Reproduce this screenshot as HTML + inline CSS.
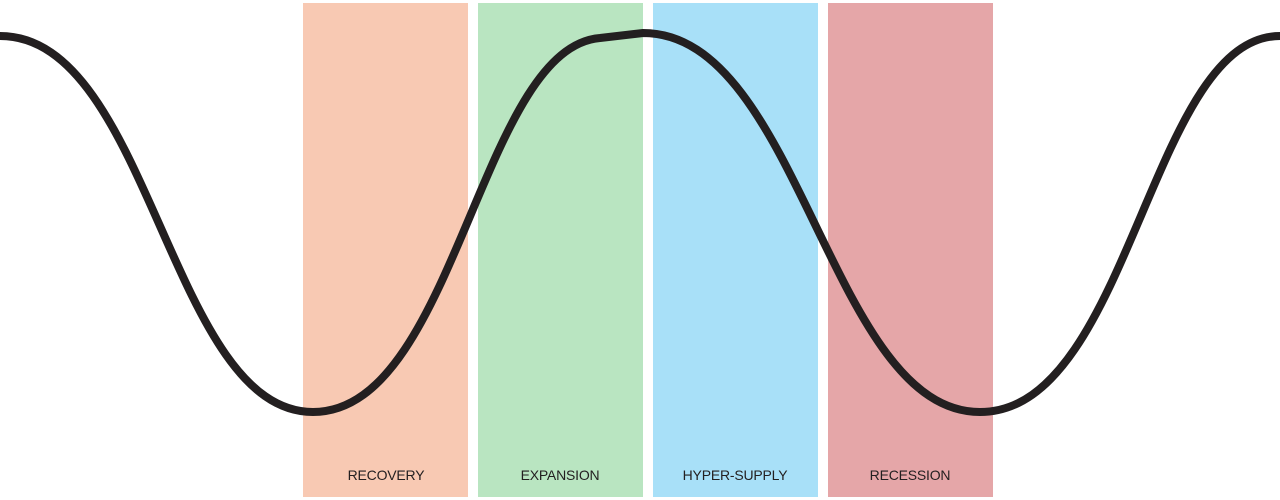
<!DOCTYPE html>
<html><head><meta charset="utf-8"><style>
html,body{margin:0;padding:0;background:#fff;width:1280px;height:500px;overflow:hidden}
</style></head><body>
<svg width="1280" height="500" viewBox="0 0 1280 500" xmlns="http://www.w3.org/2000/svg">
<rect x="303" y="3" width="165" height="494" fill="#f8c9b3"/>
<rect x="478" y="3" width="165" height="494" fill="#b9e5c1"/>
<rect x="653" y="3" width="165" height="494" fill="#a8e0f8"/>
<rect x="828" y="3" width="165" height="494" fill="#e5a6a8"/>
<path d="M0,36 C150,36 170,412 313,412 C455,412 480,48 600,38 L643,33 C800,33 830,412 980,412 C1130,412 1150,36 1280,36" fill="none" stroke="#231f20" stroke-width="8" stroke-linejoin="round"/>
<g font-family="Liberation Sans, sans-serif" font-size="14" fill="#231f20" text-anchor="middle" letter-spacing="-0.2">
<text x="386" y="480">RECOVERY</text>
<text x="560" y="480">EXPANSION</text>
<text x="735" y="480">HYPER-SUPPLY</text>
<text x="910" y="480">RECESSION</text>
</g>
</svg>
</body></html>
